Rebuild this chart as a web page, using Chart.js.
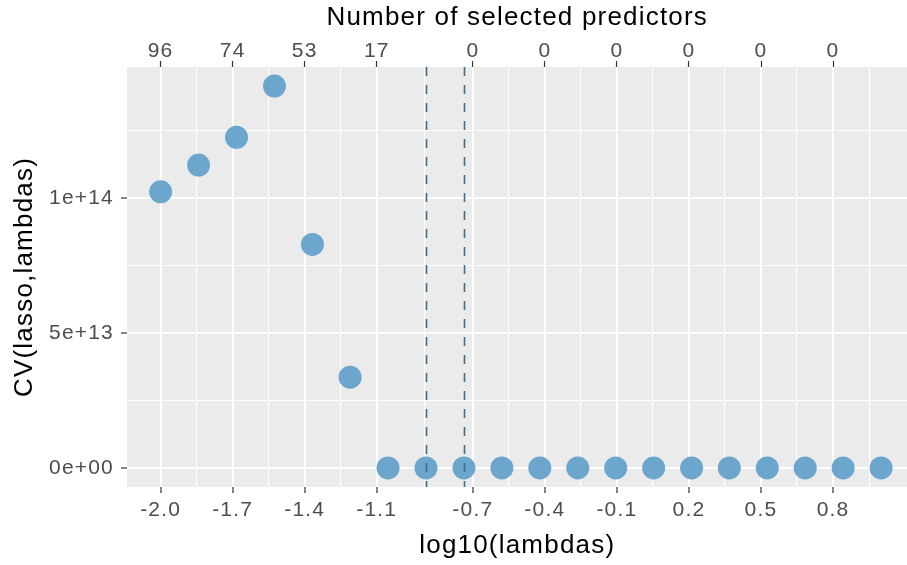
<!DOCTYPE html>
<html>
<head>
<meta charset="utf-8">
<script src="https://cdn.jsdelivr.net/npm/chart.js@4.4.1/dist/chart.umd.min.js"></script>
<style>
  html, body { margin: 0; padding: 0; background: #fff; overflow: hidden; }
  /* a little wider than the window: Chart.js keeps room for the point radius on the right,
     while in the picture the panel runs off the edge */
  #wrap { width: 919px; height: 565px; position: relative; }
</style>
</head>
<body>
<div id="wrap"><canvas id="cv"></canvas></div>
<script>
// log10 of the lambda grid and the CV error for each lambda
const log10Lambdas = [-2.000, -1.842, -1.684, -1.526, -1.368, -1.211, -1.053, -0.895, -0.737, -0.579,
                      -0.421, -0.263, -0.105, 0.053, 0.211, 0.368, 0.526, 0.684, 0.842, 1.000];
const cvErrors = [1.023e14, 1.122e14, 1.225e14, 1.415e14, 0.828e14, 0.336e14, 0, 0, 0, 0,
                  0, 0, 0, 0, 0, 0, 0, 0, 0, 0];

// axis breaks and labels
const xBreaks = [-2.0, -1.7, -1.4, -1.1, -0.7, -0.4, -0.1, 0.2, 0.5, 0.8];
const xLabels = ['-2.0', '-1.7', '-1.4', '-1.1', '-0.7', '-0.4', '-0.1', '0.2', '0.5', '0.8'];
const xMinorBreaks = [-1.85, -1.55, -1.25, -0.9, -0.55, -0.25, 0.05, 0.35, 0.65, 0.95];
const nSelected = ['96', '74', '53', '17', '0', '0', '0', '0', '0', '0'];
const yBreaks = [0, 5e13, 1e14];
const yLabels = ['0e+00', '5e+13', '1e+14'];
const yMinorBreaks = [2.5e13, 7.5e13, 1.25e14];

// lambda.min and lambda.1se (dashed lines)
const chosenLambdas = [-0.895, -0.737];

const X_MIN = -2.14, X_MAX = 1.11;
const Y_MIN = -0.0708e14, Y_MAX = 1.4856e14;

const tickFont = { family: "'Liberation Sans', Arial, sans-serif", size: 21 };
const titleFont = { family: "'Liberation Sans', Arial, sans-serif", size: 26 };

const allX = xBreaks.concat(xMinorBreaks).sort((a, b) => a - b);
const allY = yBreaks.concat(yMinorBreaks).sort((a, b) => a - b);
const isMajorX = v => xBreaks.indexOf(v) >= 0;
const isMajorY = v => yBreaks.indexOf(v) >= 0;

// the R text in the picture is set quite loose
const spacing = {
  id: 'spacing',
  beforeLayout(chart) { chart.ctx.letterSpacing = '1.2px'; },
  beforeDraw(chart) { chart.ctx.letterSpacing = '1.2px'; }
};

// grey ggplot panel
const panelBg = {
  id: 'panelBg',
  beforeDraw(chart) {
    const { ctx, chartArea: a } = chart;
    ctx.save();
    ctx.fillStyle = '#EBEBEB';
    ctx.fillRect(a.left, a.top, a.right - a.left, a.bottom - a.top);
    ctx.restore();
  }
};

// dashed vertical lines at the chosen lambdas
const vlines = {
  id: 'vlines',
  afterDatasetsDraw(chart) {
    const { ctx, chartArea: a, scales } = chart;
    ctx.save();
    ctx.strokeStyle = '#3E6D8E';
    ctx.lineWidth = 1.6;
    ctx.setLineDash([9, 9]);
    chosenLambdas.forEach(v => {
      const px = Math.round(scales.x.getPixelForValue(v)) + 0.5;
      ctx.beginPath();
      ctx.moveTo(px, a.top);
      ctx.lineTo(px, a.bottom);
      ctx.stroke();
    });
    ctx.restore();
  }
};

new Chart(document.getElementById('cv'), {
  type: 'scatter',
  data: {
    datasets: [{
      data: log10Lambdas.map((x, i) => ({ x: x, y: cvErrors[i] })),
      backgroundColor: '#6CA6CD',
      borderWidth: 0,
      pointRadius: 11.5,
      pointHoverRadius: 11.5
    }]
  },
  options: {
    responsive: true,
    maintainAspectRatio: false,
    animation: false,
    layout: { padding: 0 },
    plugins: {
      legend: { display: false },
      tooltip: { enabled: false }
    },
    scales: {
      x: {
        type: 'linear',
        position: 'bottom',
        min: X_MIN,
        max: X_MAX,
        afterBuildTicks: s => { s.ticks = allX.map(v => ({ value: v })); },
        afterFit: s => { s.height = 78; },
        ticks: {
          autoSkip: false,
          maxRotation: 0,
          padding: 5,
          color: '#4D4D4D',
          font: tickFont,
          callback: v => isMajorX(v) ? xLabels[xBreaks.indexOf(v)] : ''
        },
        grid: {
          color: '#FFFFFF',
          lineWidth: c => (c.tick && isMajorX(c.tick.value)) ? 2 : 1.1,
          tickColor: c => (c.tick && isMajorX(c.tick.value)) ? '#333333' : 'rgba(0,0,0,0)',
          tickLength: 6,
          tickWidth: 1.2
        },
        border: { display: false },
        title: {
          display: true,
          text: 'log10(lambdas)',
          color: '#000',
          font: titleFont,
          padding: { top: 0, bottom: 4 }
        }
      },
      x2: {
        type: 'linear',
        position: 'top',
        min: X_MIN,
        max: X_MAX,
        afterBuildTicks: s => { s.ticks = xBreaks.map(v => ({ value: v })); },
        afterFit: s => { s.height = 67; },
        ticks: {
          autoSkip: false,
          maxRotation: 0,
          padding: -3,
          color: '#4D4D4D',
          font: tickFont,
          callback: (v, i) => nSelected[i]
        },
        grid: {
          drawOnChartArea: false,
          tickColor: '#333333',
          tickLength: 6,
          tickWidth: 1.2
        },
        border: { display: false },
        title: {
          display: true,
          text: 'Number of selected predictors',
          color: '#000',
          font: titleFont,
          padding: { top: 2, bottom: 0 }
        }
      },
      y: {
        type: 'linear',
        position: 'left',
        min: Y_MIN,
        max: Y_MAX,
        afterBuildTicks: s => { s.ticks = allY.map(v => ({ value: v })); },
        afterFit: s => { s.width = 127; },
        ticks: {
          autoSkip: false,
          padding: 7,
          color: '#4D4D4D',
          font: tickFont,
          callback: v => isMajorY(v) ? yLabels[yBreaks.indexOf(v)] : ''
        },
        grid: {
          color: '#FFFFFF',
          lineWidth: c => (c.tick && isMajorY(c.tick.value)) ? 2 : 1.1,
          tickColor: c => (c.tick && isMajorY(c.tick.value)) ? '#333333' : 'rgba(0,0,0,0)',
          tickLength: 6,
          tickWidth: 1.2
        },
        border: { display: false },
        title: {
          display: true,
          text: 'CV(lasso,lambdas)',
          color: '#000',
          font: titleFont,
          padding: { top: 9, bottom: 0 }
        }
      }
    }
  },
  plugins: [spacing, panelBg, vlines]
});
</script>
</body>
</html>
